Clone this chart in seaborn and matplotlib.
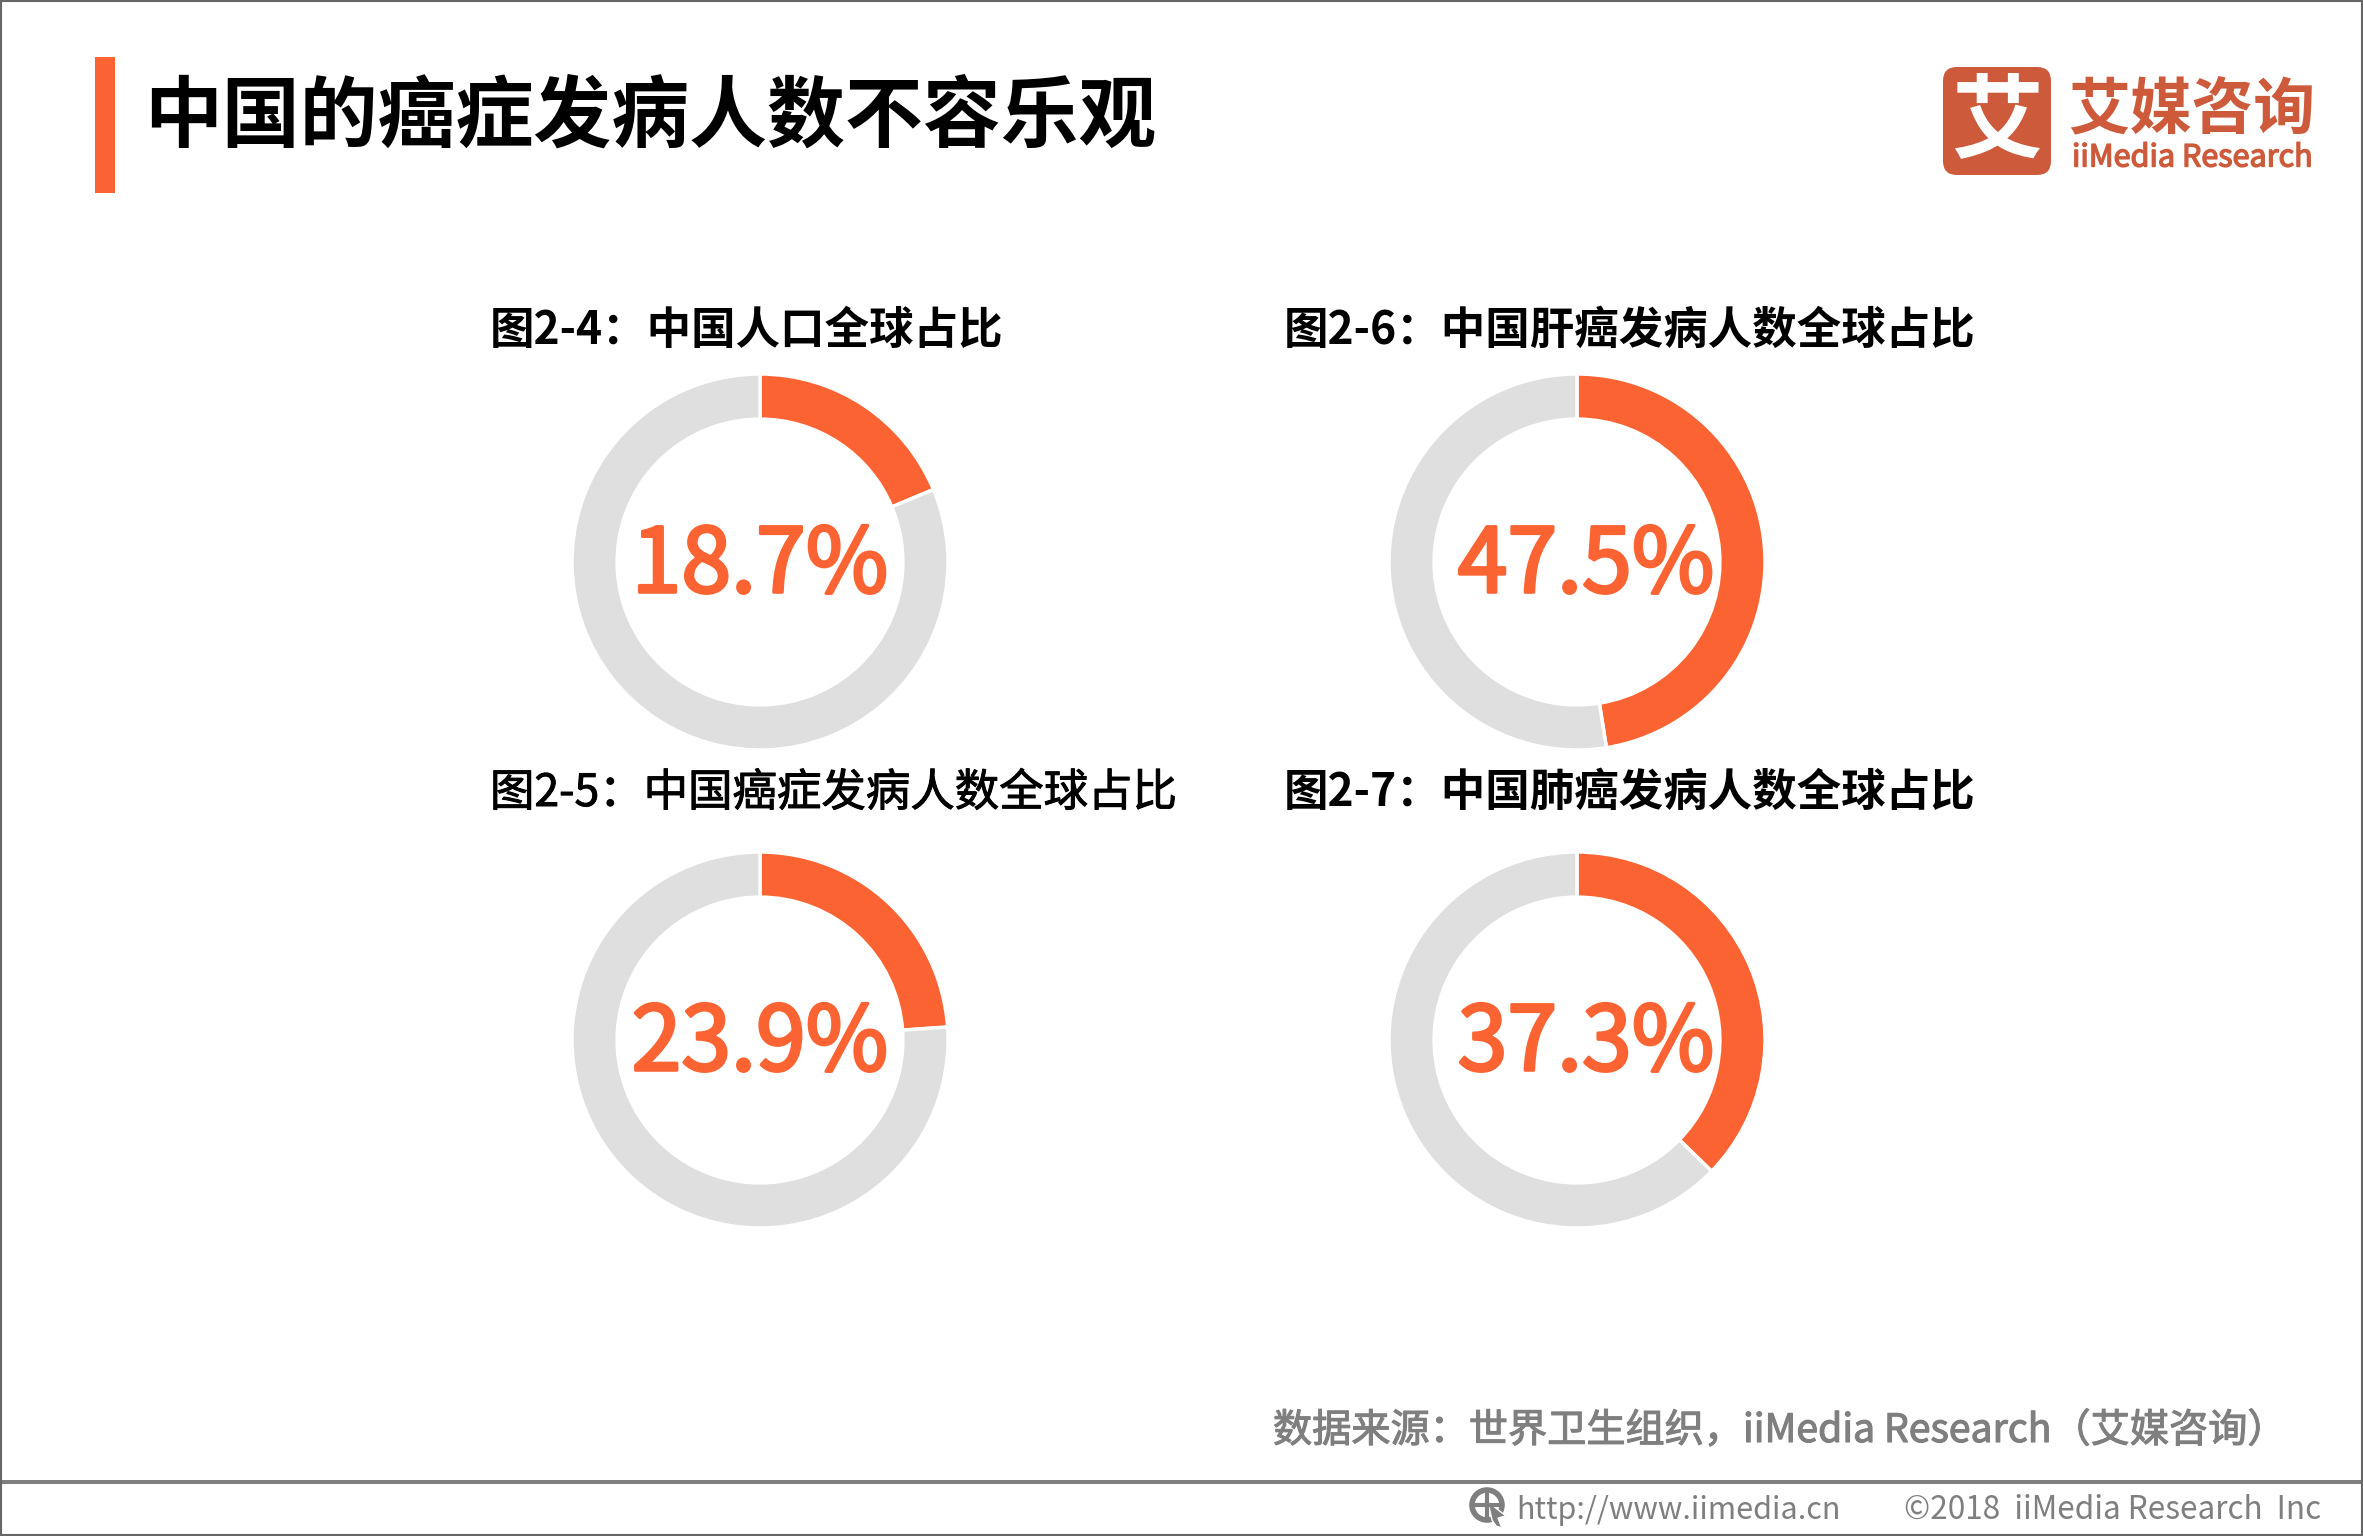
import matplotlib
matplotlib.use("Agg")
import matplotlib.pyplot as plt
import matplotlib.patheffects as pe
import seaborn as sns
from matplotlib.patches import Circle, FancyBboxPatch, Polygon, Rectangle

W, H = 2363, 1536
ORANGE = "#FB6432"
GREY = "#DFDFDF"
LOGO = "#CD5B3B"
FOOT = "#7F7F7F"

sns.set_theme(style="white")
plt.rcParams["font.family"] = ["Noto Sans CJK SC", "DejaVu Sans"]

# data
titles = ["图2-4：中国人口全球占比", "图2-6：中国肝癌发病人数全球占比",
          "图2-5：中国癌症发病人数全球占比", "图2-7：中国肺癌发病人数全球占比"]
shares = [18.7, 47.5, 23.9, 37.3]
title_weights = ["bold", "bold", "regular", "bold"]

# layout, pixels
centers = [(760, 562), (1577, 562), (760, 1040), (1577, 1040)]
title_pos = [(490, 331), (1284, 331), (490, 793), (1284, 793)]
label_x = [760, 1586, 760, 1586]
R = 188


def thicken(lw, color):
    # no medium weight installed, so fatten the regular one a little
    return [pe.withStroke(linewidth=lw, foreground=color)]


fig = plt.figure(figsize=(W / 100, H / 100), dpi=100, facecolor="white")
bg = fig.add_axes([0, 0, 1, 1])
bg.set_xlim(0, W); bg.set_ylim(H, 0); bg.axis("off")

# header
bg.add_patch(Rectangle((95, 57), 20, 136, color=ORANGE, lw=0))
bg.text(144, 118, "中国的癌症发病人数不容乐观", fontsize=56.1, fontweight="bold",
        color="black", ha="left", va="center")

# logo
bg.add_patch(FancyBboxPatch((1943, 67), 108, 108, boxstyle="round,pad=0,rounding_size=14",
                            fc=LOGO, ec="none", lw=0))
bg.text(1997, 123, "艾", fontsize=66, fontweight="bold", color="white", ha="center", va="center")
bg.text(2068, 110, "艾媒咨询", fontsize=44.5, fontweight="bold", color=LOGO, ha="left", va="center")
bg.text(2072, 158, "iiMedia Research", fontsize=22, color=LOGO, ha="left", va="center",
        path_effects=thicken(1.0, LOGO))

# donuts
for i, share in enumerate(shares):
    cx, cy = centers[i]
    ax = fig.add_axes([(cx - R) / W, 1 - (cy + R) / H, 2 * R / W, 2 * R / H])
    ax.pie([share, 100 - share], colors=[ORANGE, GREY], startangle=90, counterclock=False,
           radius=1, wedgeprops=dict(width=0.24, edgecolor="white", linewidth=2.5))
    ax.set_xlim(-1, 1); ax.set_ylim(-1, 1)
    t = bg.text(title_pos[i][0], title_pos[i][1], titles[i], fontsize=32,
                fontweight=title_weights[i], color="black", ha="left", va="center")
    if title_weights[i] == "regular":
        t.set_path_effects(thicken(0.7, "black"))
    fig.text(label_x[i] / W, 1 - (cy + 5) / H, f"{share}%", fontsize=64.5, color=ORANGE,
             ha="center", va="center", zorder=5, path_effects=thicken(2.2, ORANGE))

# footer
bg.text(1273, 1431, "数据来源：世界卫生组织，iiMedia Research（艾媒咨询）", fontsize=28.2,
        color=FOOT, ha="left", va="center", path_effects=thicken(0.8, FOOT))
bg.add_patch(Rectangle((0, 1480), W, 4, color=FOOT, lw=0))
bg.add_patch(Circle((1487, 1505), 15, fc="none", ec=FOOT, lw=4))
bg.plot([1472, 1502], [1505, 1505], color=FOOT, lw=3)
bg.plot([1487, 1487], [1490, 1520], color=FOOT, lw=3)
bg.add_patch(Polygon([(1488, 1502), (1506, 1516), (1498, 1518), (1502, 1528), (1496, 1526), (1492, 1520)],
                     fc=FOOT, ec="white", lw=1))
bg.text(1516, 1510, "http://www.iimedia.cn", fontsize=22, color=FOOT, ha="left", va="center")
bg.text(1904, 1510, "©2018  iiMedia Research  Inc", fontsize=22.7, color=FOOT, ha="left", va="center")

# frame
bg.add_patch(Rectangle((0.5, 0.5), W - 1.5, H - 1.5, fc="none", ec="#666666", lw=1.5))

fig.savefig("out.png", dpi=100, facecolor="white")
